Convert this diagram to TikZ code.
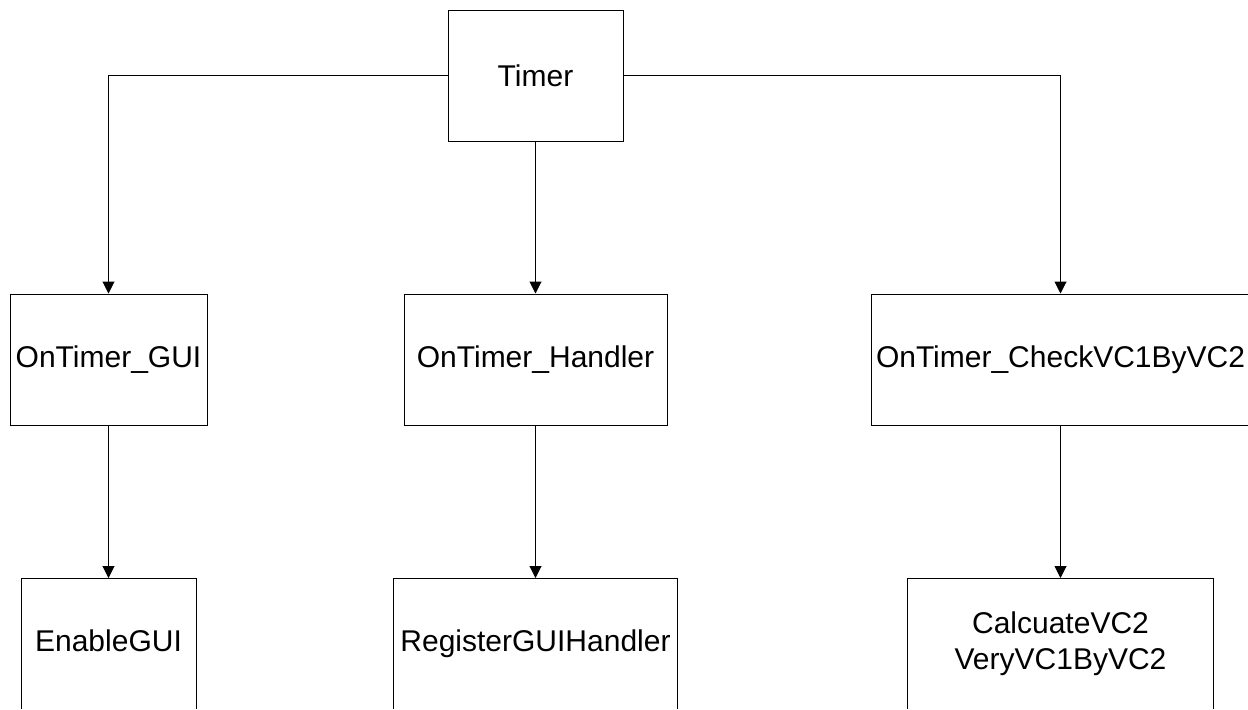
\documentclass[tikz,border=0pt]{standalone}
\usepackage{fontspec}
\setmainfont{Liberation Sans}
\usetikzlibrary{arrows.meta}

\tikzset{
  box/.style={draw, line width=0.5pt, minimum height=65.5pt, inner sep=0pt, align=center,
    font=\fontsize{15}{18}\selectfont},
  link/.style={line width=0.5pt, -{Triangle[length=6pt,width=6pt]}}
}

\begin{document}
\begin{tikzpicture}[x=0.5pt,y=-0.5pt]
\useasboundingbox (0,0) rectangle (1248,709);
\clip (0,0) rectangle (1248,708.4);

% Top
\node[box, minimum width=87.5pt] (timer) at (535.5,75.5) {Timer};

% Handlers
\node[box, minimum width=98.5pt] (gui) at (108.5,359.5) {OnTimer\_GUI};
\node[box, minimum width=131.5pt] (handler) at (535.5,359.5) {OnTimer\_Handler};
\node[box, minimum width=189pt] (check) at (1060.5,359.5) {OnTimer\_CheckVC1ByVC2};

% Calls
\node[box, minimum width=87.5pt] (enable) at (108.5,644) {\raisebox{3pt}{EnableGUI}};
\node[box, minimum width=142pt] (register) at (535.5,644) {\raisebox{3pt}{RegisterGUIHandler}};
\node[box, minimum width=153pt] (calc) at (1060.5,644) {\raisebox{2pt}{CalcuateVC2}\\\raisebox{2pt}{VeryVC1ByVC2}};

% Links
\draw[link] (timer.west) -| (gui.north);
\draw[link] (timer.south) -- (handler.north);
\draw[link] (timer.east) -| (check.north);
\draw[link] (gui.south) -- (enable.north);
\draw[link] (handler.south) -- (register.north);
\draw[link] (check.south) -- (calc.north);

\end{tikzpicture}
\end{document}
